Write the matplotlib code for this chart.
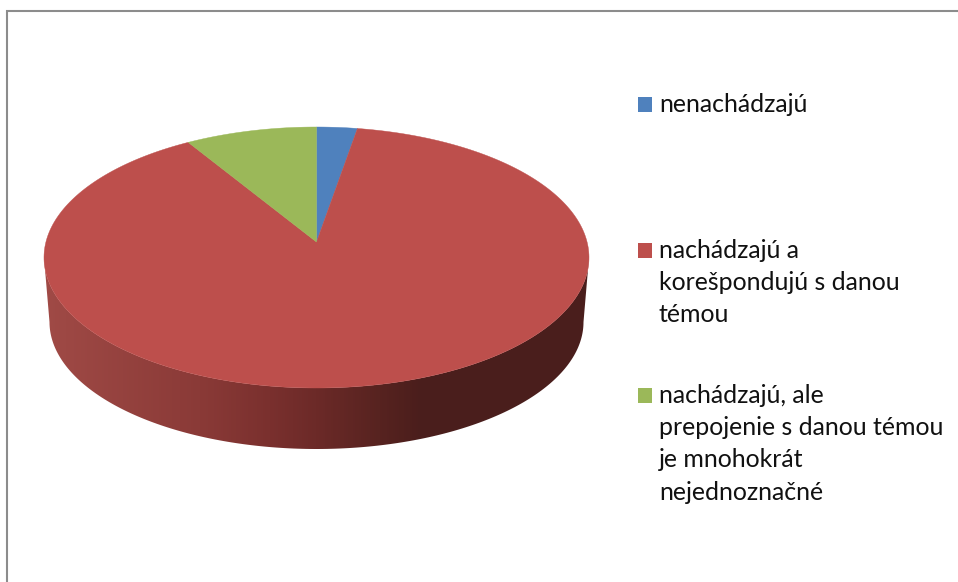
import numpy as np
import matplotlib
matplotlib.use("Agg")
import matplotlib.pyplot as plt
from matplotlib.colors import LinearSegmentedColormap
from matplotlib.patches import Polygon

# data
labels = [
    ["nenachádzajú"],
    ["nachádzajú a", "korešpondujú s danou", "témou"],
    ["nachádzajú, ale", "prepojenie s danou témou", "je mnohokrát", "nejednoznačné"],
]
values = [2.4, 89.8, 7.8]
colors = ["#4f81bd", "#bd4f4c", "#9bb859"]

# geometry of the tilted disc, in pixels
cx, cy, rx, ry = 316.5, 257.5, 272.5, 130.5
tip_y = 242
low_cy, low_rx, low_ry = 322, 267, 127

plt.rcParams['font.family'] = ['Lato', 'DejaVu Sans']
fig = plt.figure(figsize=(9.58, 5.82), dpi=100)
ax = fig.add_axes([0, 0, 1, 1])

# frame, only top and left are visible
ax.plot([7, 7, 958], [582, 10.5, 10.5], color="#8c8c8c", lw=1.5, solid_joinstyle="miter")

# side of the disc with its gradient
t = np.linspace(-np.pi / 2, np.pi / 2, 200)
top_edge = np.column_stack([cx + rx * np.sin(t), cy + ry * np.cos(t)])
low_edge = np.column_stack([cx + low_rx * np.sin(t), low_cy + low_ry * np.cos(t)])
side = Polygon(np.vstack([top_edge, low_edge[::-1]]), closed=True, fc="none", ec="none")
ax.add_patch(side)
stops = [(44, "#a04a46"), (200, "#8a3a37"), (270, "#7a302e"), (316, "#6c2a28"), (380, "#572320"), (420, "#4b1e1c"), (589, "#4a1e1c")]
cmap = LinearSegmentedColormap.from_list("side", [((x - 44) / 545, c) for x, c in stops])
grad = ax.imshow(np.linspace(0, 1, 545)[None, :], extent=[44, 589, 460, 250], cmap=cmap, aspect="auto", zorder=1)
grad.set_clip_path(side)

# slices, clockwise from the top
edges = np.cumsum([0] + values) / sum(values) * 2 * np.pi
for a0, a1, col in zip(edges[:-1], edges[1:], colors):
    a = np.linspace(a0, a1, 300)
    pts = np.column_stack([cx + rx * np.sin(a), cy - ry * np.cos(a)])
    pts = np.vstack([[cx, tip_y], pts])
    ax.add_patch(Polygon(pts, closed=True, fc=col, ec=col, lw=0.3, zorder=2))

# legend
baselines = [[112], [258, 290, 322], [403, 435, 467, 500]]
for lines, ys, col in zip(labels, baselines, colors):
    ax.add_patch(plt.Rectangle((638, ys[0] - 15), 14, 15, fc=col, ec="none", zorder=2))
    for line, y in zip(lines, ys):
        ax.text(659, y, line, fontsize=17.9, color="#111111", va="baseline", ha="left")

ax.set_xlim(0, 958)
ax.set_ylim(582, 0)
ax.axis("off")

fig.savefig("out.png", dpi=100)
